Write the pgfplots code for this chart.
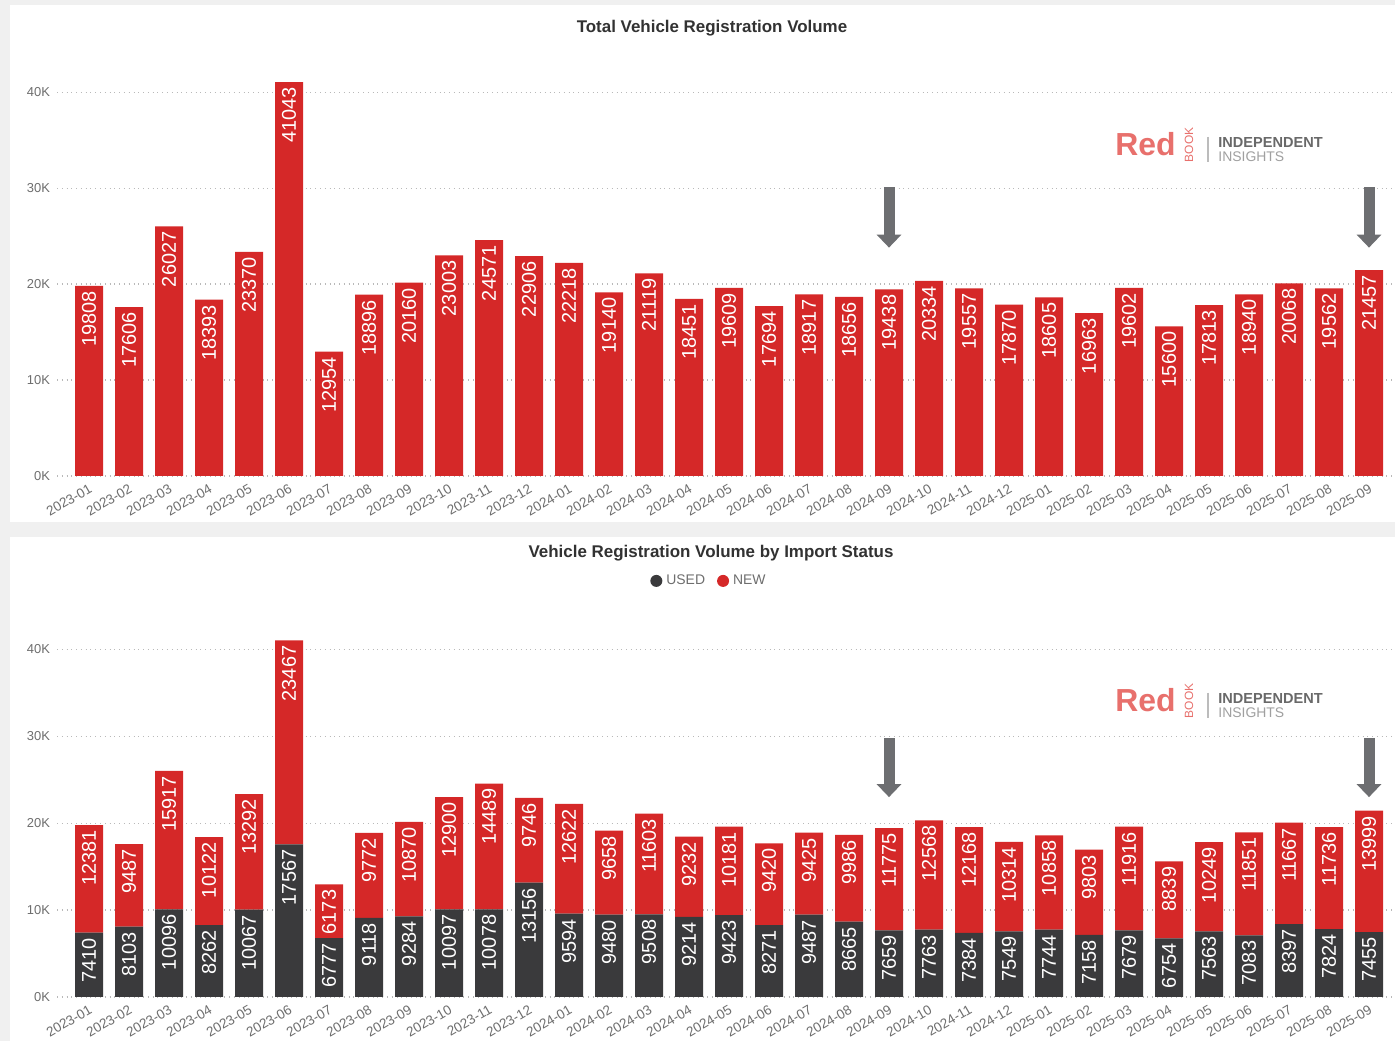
\documentclass[border=0pt]{standalone}
\usepackage{pgfplots}
\pgfplotsset{compat=1.18}
\usepackage{fontspec}
\setmainfont{Liberation Sans}
\usetikzlibrary{arrows.meta}
\definecolor{barred}{RGB}{213,40,40}
\definecolor{usedgray}{RGB}{58,58,60}
\definecolor{bgg}{RGB}{240,240,240}
\definecolor{ticktxt}{RGB}{110,110,110}
\definecolor{titletxt}{RGB}{50,50,50}
\definecolor{gridc}{RGB}{185,185,185}
\definecolor{arrowc}{RGB}{109,110,113}
\definecolor{logored}{RGB}{232,112,108}
\definecolor{logogray}{RGB}{105,105,105}
\definecolor{logolight}{RGB}{160,160,160}

\pgfplotsset{
 regchart/.style={
  scale only axis, width=669bp,
  xmin=-0.8, xmax=32.65, ymin=0, ymax=42000,
  xtick={0,...,32},
  xticklabels={2023-01,2023-02,2023-03,2023-04,2023-05,2023-06,2023-07,2023-08,2023-09,2023-10,2023-11,2023-12,2024-01,2024-02,2024-03,2024-04,2024-05,2024-06,2024-07,2024-08,2024-09,2024-10,2024-11,2024-12,2025-01,2025-02,2025-03,2025-04,2025-05,2025-06,2025-07,2025-08,2025-09},
  ytick={0,10000,20000,30000,40000}, yticklabels={0K,10K,20K,30K,40K},
  scaled y ticks=false,
  axis line style={draw=none}, major tick length=0pt,
  ymajorgrids, major grid style={gridc, dotted, line width=0.6pt},
  xticklabel style={rotate=30, anchor=north east, font=\fontsize{6.8}{8}\selectfont, text=ticktxt, inner sep=1bp},
  xticklabel shift=2bp,
  yticklabel style={font=\fontsize{6.5}{8}\selectfont, text=ticktxt},
  bar width=14bp,
  nodes near coords, point meta=rawy,
  every node near coord/.append style={rotate=90, anchor=east, font=\fontsize{10}{12}\selectfont, text=white, inner xsep=2.5bp, inner ysep=0pt},
  /pgf/number format/fixed, /pgf/number format/precision=0,
  /pgf/number format/1000 sep={}, /pgf/number format/assume math mode=true,
  title style={font=\fontsize{8.5}{10}\selectfont\bfseries, text=titletxt, anchor=center},
 }
}

\newcommand{\logo}[1]{%
\begin{scope}[yshift=#1]
\node[anchor=base west, inner sep=0, text=logored, font=\fontsize{16}{16}\selectfont\bfseries] at (557.5bp,442.5bp) {Red};
\node[rotate=90, text=logored, font=\fontsize{6}{6}\selectfont, inner sep=0] at (594.5bp,448bp) {BOOK};
\draw[logolight!70, line width=0.6bp] (604bp,452bp) -- (604bp,439.5bp);
\node[anchor=base west, inner sep=0, text=logogray, font=\fontsize{7.3}{8}\selectfont\bfseries] at (609bp,446.5bp) {INDEPENDENT};
\node[anchor=base west, inner sep=0, text=logolight, font=\fontsize{7}{8}\selectfont] at (609bp,439.5bp) {INSIGHTS};
\end{scope}}

\begin{document}
\begin{tikzpicture}
\fill[bgg] (0,0) rectangle (697.5bp,520.5bp);
\fill[white] (5bp,259.5bp) rectangle (697.5bp,518bp);
\fill[white] (5bp,0bp) rectangle (697.5bp,252bp);

\begin{axis}[regchart, at={(28.5bp,282.5bp)}, anchor=south west, height=201.5bp,
  ybar,
  title={Total Vehicle Registration Volume},
  title style={at={(axis description cs:0.4895,1)}, yshift=16.5bp}]
\addplot[fill=barred, draw=none] coordinates {
(0,19808) (1,17606) (2,26027) (3,18393) (4,23370) (5,41043) (6,12954) (7,18896) (8,20160) (9,23003) (10,24571) (11,22906) (12,22218) (13,19140) (14,21119) (15,18451) (16,19609) (17,17694) (18,18917) (19,18656) (20,19438) (21,20334) (22,19557) (23,17870) (24,18605) (25,16963) (26,19602) (27,15600) (28,17813) (29,18940) (30,20068) (31,19562) (32,21457)};
\draw[arrowc, line width=5.5bp, -{Triangle[width=12bp,length=6.5bp]}] (axis cs:20,30100) -- (axis cs:20,23800);
\draw[arrowc, line width=5.5bp, -{Triangle[width=12bp,length=6.5bp]}] (axis cs:32,30100) -- (axis cs:32,23800);
\end{axis}

\begin{axis}[regchart, at={(28.5bp,22bp)}, anchor=south west, height=182.5bp,
  ybar stacked,
  title={Vehicle Registration Volume by Import Status},
  title style={at={(axis description cs:0.4888,1)}, yshift=33.5bp},
  legend style={at={(axis description cs:0.488,1.14)}, anchor=center, draw=none, fill=none,
    font=\fontsize{7}{8}\selectfont, text=ticktxt, inner sep=0pt,
    /tikz/every even column/.append style={column sep=4bp}},
  legend columns=2]
\addplot[fill=usedgray, draw=none,
  legend image code/.code={\fill[usedgray] (3bp,0bp) circle (3bp);}] coordinates {
(0,7410) (1,8103) (2,10096) (3,8262) (4,10067) (5,17567) (6,6777) (7,9118) (8,9284) (9,10097) (10,10078) (11,13156) (12,9594) (13,9480) (14,9508) (15,9214) (16,9423) (17,8271) (18,9487) (19,8665) (20,7659) (21,7763) (22,7384) (23,7549) (24,7744) (25,7158) (26,7679) (27,6754) (28,7563) (29,7083) (30,8397) (31,7824) (32,7455)};
\addlegendentry{USED}
\addplot[fill=barred, draw=none,
  legend image code/.code={\fill[barred] (3bp,0bp) circle (3bp);}] coordinates {
(0,12381) (1,9487) (2,15917) (3,10122) (4,13292) (5,23467) (6,6173) (7,9772) (8,10870) (9,12900) (10,14489) (11,9746) (12,12622) (13,9658) (14,11603) (15,9232) (16,10181) (17,9420) (18,9425) (19,9986) (20,11775) (21,12568) (22,12168) (23,10314) (24,10858) (25,9803) (26,11916) (27,8839) (28,10249) (29,11851) (30,11667) (31,11736) (32,13999)};
\addlegendentry{NEW}
\draw[arrowc, line width=5.5bp, -{Triangle[width=12bp,length=6.5bp]}] (axis cs:20,29800) -- (axis cs:20,23000);
\draw[arrowc, line width=5.5bp, -{Triangle[width=12bp,length=6.5bp]}] (axis cs:32,29800) -- (axis cs:32,23000);
\end{axis}

\logo{0bp}
\logo{-278bp}

\pgfresetboundingbox
\useasboundingbox (0,0) rectangle (697.5bp,520.5bp);
\end{tikzpicture}
\end{document}
